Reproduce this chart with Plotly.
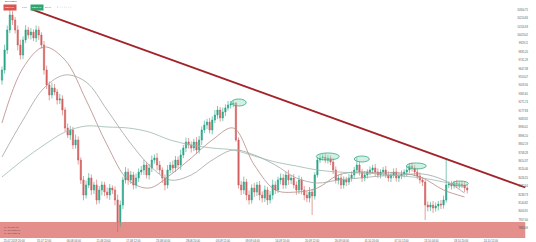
import pandas as pd
import plotly.graph_objects as go

# ---------------- data ----------------
first_open = 9520
close = [
    9633, 9857, 10081, 10248, 10192, 10081, 9913, 9801, 9969, 10081,
    10025, 10058, 9991, 10081, 10025, 9913, 9633, 9466, 9354, 9432,
    9387, 9298, 9310, 9186, 8985, 8907, 8963, 8795, 8851, 8627,
    8404, 8236, 8348, 8426, 8292, 8348, 8180, 8292, 8348, 8269,
    8236, 8314, 8292, 8180, 7934, 8124, 8404, 8493, 8404, 8460,
    8348, 8426, 8493, 8515, 8571, 8460, 8538, 8627, 8650, 8571,
    8515, 8426, 8348, 8515, 8571, 8538, 8627, 8571, 8683, 8761,
    8828, 8795, 8761, 8828, 8739, 8851, 8963, 9018, 9052, 8963,
    9074, 9130, 9186, 9097, 9164, 9209, 9242, 9253, 9264, 8851,
    8348, 8292, 8381, 8236, 8180, 8314, 8269, 8348, 8236, 8202,
    8292, 8180, 8236, 8348, 8292, 8404, 8426, 8348, 8460, 8404,
    8426, 8348, 8292, 8404, 8292, 8236, 8202, 8269, 8225, 8460,
    8627, 8650, 8661, 8627, 8650, 8605, 8515, 8404, 8426, 8348,
    8404, 8381, 8426, 8460, 8515, 8571, 8493, 8426, 8460, 8493,
    8515, 8538, 8493, 8460, 8493, 8515, 8460, 8426, 8460, 8493,
    8426, 8448, 8471, 8493, 8515, 8560, 8538, 8493, 8448, 8404,
    8381, 8124, 8102, 8124, 8090, 8113, 8135, 8124, 8180, 8348,
    8359, 8337, 8370, 8348, 8359, 8348, 8314, 8292,
]
upper_wick = [
    40, 60, 50, 80, 45, 35, 50, 60, 40, 55,
    35, 45, 30, 50, 40, 30, 45, 50, 40, 60,
    45, 35, 55, 40, 30, 50, 45, 35, 60, 40,
    30, 45, 50, 55, 40, 35, 60, 45, 40, 35,
    50, 45, 30, 40, 60, 50, 35, 55, 40, 45,
    35, 50, 40, 45, 60, 35, 45, 50, 40, 55,
    45, 30, 40, 55, 35, 50, 45, 40, 60, 35,
    50, 45, 40, 35, 55, 45, 40, 50, 35, 45,
    40, 55, 45, 35, 50, 40, 45, 35, 25, 10,
    30, 45, 60, 35, 50, 40, 55, 35, 45, 40,
    50, 35, 45, 60, 40, 35, 50, 45, 40, 55,
    35, 45, 40, 50, 35, 45, 40, 55, 35, 30,
    35, 40, 35, 40, 35, 30, 45, 40, 35, 50,
    40, 35, 45, 40, 35, 90, 40, 35, 45, 30,
    40, 35, 45, 40, 30, 35, 45, 40, 35, 40,
    45, 35, 40, 30, 45, 35, 40, 35, 45, 40,
    35, 20, 40, 35, 45, 40, 35, 45, 50, 300,
    30, 35, 25, 35, 30, 35, 40, 30,
]
lower_wick = [
    50, 40, 45, 35, 55, 40, 60, 50, 45, 35,
    40, 50, 35, 45, 55, 40, 50, 45, 60, 40,
    35, 50, 45, 60, 40, 35, 55, 45, 40, 50,
    45, 60, 40, 35, 55, 45, 50, 40, 60, 45,
    40, 55, 45, 60, 112, 50, 45, 40, 55, 45,
    50, 40, 45, 35, 55, 40, 50, 45, 40, 60,
    45, 55, 60, 40, 35, 50, 45, 40, 55, 35,
    45, 40, 50, 35, 45, 40, 55, 35, 45, 40,
    50, 35, 45, 40, 35, 45, 30, 40, 35, 20,
    40, 55, 45, 60, 50, 40, 55, 45, 60, 50,
    45, 55, 40, 50, 45, 35, 50, 45, 40, 55,
    45, 40, 55, 45, 50, 60, 45, 50, 213, 40,
    30, 35, 30, 35, 40, 35, 45, 40, 50, 45,
    40, 45, 35, 40, 45, 35, 40, 45, 35, 40,
    35, 40, 45, 35, 40, 45, 35, 40, 45, 35,
    40, 45, 35, 40, 45, 35, 40, 45, 35, 40,
    45, 168, 50, 45, 55, 40, 50, 45, 40, 30,
    35, 40, 30, 35, 40, 35, 45, 40,
]

ma_dates = [
    "2019-07-23 12:00", "2019-07-27 12:00", "2019-07-31 12:00", "2019-08-04 12:00",
    "2019-08-08 12:00", "2019-08-12 12:00", "2019-08-16 12:00", "2019-08-20 12:00",
    "2019-08-24 12:00", "2019-08-28 12:00", "2019-09-01 12:00", "2019-09-05 12:00",
    "2019-09-09 12:00", "2019-09-13 12:00", "2019-09-17 12:00", "2019-09-21 12:00",
    "2019-09-25 12:00", "2019-09-29 12:00", "2019-10-03 12:00", "2019-10-07 12:00",
    "2019-10-11 12:00", "2019-10-15 12:00", "2019-10-19 12:00",
]
ma_fast = [9041, 9656, 9891, 9745, 9298, 8795, 8404, 8314, 8460, 8650, 8851, 8985,
           8571, 8292, 8269, 8314, 8460, 8493, 8482, 8482, 8426, 8292, 8214]
ma_mid = [8661, 9074, 9432, 9578, 9499, 9186, 8851, 8571, 8404, 8460, 8627, 8739,
          8683, 8571, 8426, 8370, 8404, 8426, 8448, 8460, 8471, 8404, 8258]
ma_slow = [8437, 8627, 8795, 8940, 9007, 8996, 8985, 8940, 8851, 8795, 8761, 8739,
           8672, 8605, 8560, 8515, 8493, 8482, 8471, 8448, 8426, 8381, 8337]

trend_dates = ["2019-07-29 04:00", "2019-10-31 01:00"]
trend_prices = [10312, 8320]

zone_dates = ["2019-07-23 03:00", "2019-10-31 01:00"]
zone_prices = [7755.2, 7934]

# highlighted highs: (start, end, low price, high price)
ell_x0 = ["2019-09-05 03:00", "2019-09-21 07:00", "2019-09-28 12:30", "2019-10-08 10:00", "2019-10-17 04:00"]
ell_x1 = ["2019-09-07 23:00", "2019-09-25 16:00", "2019-10-01 09:00", "2019-10-12 05:00", "2019-10-20 05:00"]
ell_y0 = [9231, 8627, 8605, 8527, 8337]
ell_y1 = [9309, 8706, 8672, 8594, 8392]

price_ticks = [10304.75, 10210.84, 10116.93, 10023.02, 9929.11, 9835.20, 9741.29,
               9647.38, 9553.47, 9459.56, 9365.65, 9271.74, 9177.83, 9083.92,
               8990.01, 8896.10, 8802.19, 8708.28, 8614.37, 8520.46, 8426.55,
               8332.64, 8238.73, 8144.82, 8050.91, 7957.00, 7863.09, 7769.18]

date_ticks = ["2019-07-25 20:00", "2019-07-31 12:00", "2019-08-06 04:00", "2019-08-11 20:00",
              "2019-08-17 12:00", "2019-08-23 04:00", "2019-08-28 20:00", "2019-09-03 12:00",
              "2019-09-09 04:00", "2019-09-14 20:00", "2019-09-20 12:00", "2019-09-26 04:00",
              "2019-10-01 20:00", "2019-10-07 12:00", "2019-10-13 04:00", "2019-10-18 20:00",
              "2019-10-24 12:00", "2019-10-30 04:00"]
date_labels = ["25.07.2019 20:00", "31.07 12:00", "06.08 04:00", "11.08 20:00",
               "17.08 12:00", "23.08 04:00", "28.08 20:00", "03.09 12:00",
               "09.09 04:00", "14.09 20:00", "20.09 12:00", "26.09 04:00",
               "01.10 20:00", "07.10 12:00", "13.10 04:00", "18.10 20:00",
               "24.10 12:00", "30.10 04:00"]

# ---------------- build ----------------
times = pd.date_range("2019-07-23 12:00", periods=len(close), freq="12h")
opens = [first_open] + close[:-1]
highs = [max(o, c) + u for o, c, u in zip(opens, close, upper_wick)]
lows = [min(o, c) - w for o, c, w in zip(opens, close, lower_wick)]

W, H = 536, 242
fig = go.Figure()

fig.add_shape(type="rect", xref="x", yref="y", x0=zone_dates[0], x1=zone_dates[1],
              y0=zone_prices[0], y1=zone_prices[1], fillcolor="#e48f8c",
              line=dict(width=0), layer="below")

for name, vals, col in [("MA fast", ma_fast, "#b58a84"), ("MA mid", ma_mid, "#a3a3a3"),
                        ("MA slow", ma_slow, "#9cb9b0")]:
    fig.add_trace(go.Scatter(x=ma_dates, y=vals, mode="lines", name=name,
                             line=dict(color=col, width=0.8, shape="spline", smoothing=1.0),
                             hoverinfo="skip"))

fig.add_trace(go.Candlestick(
    x=times, open=opens, high=highs, low=lows, close=close,
    increasing=dict(line=dict(color="#2aa586", width=0.6), fillcolor="#2aa586"),
    decreasing=dict(line=dict(color="#d2605f", width=0.6), fillcolor="#d2605f"),
    whiskerwidth=0, name="BTCUSD"))

fig.add_trace(go.Scatter(x=trend_dates, y=trend_prices, mode="lines",
                         line=dict(color="#a2242a", width=1.8), hoverinfo="skip"))

for a, b, c, d in zip(ell_x0, ell_x1, ell_y0, ell_y1):
    fig.add_shape(type="circle", xref="x", yref="y", x0=a, x1=b, y0=c, y1=d,
                  fillcolor="rgba(150,225,195,0.45)", line=dict(color="#3aa882", width=0.8))

PH = 238.0
def py(p):
    return 1 - p / PH

small = dict(family="Liberation Sans, Arial, sans-serif", size=2.6, color="#555555")
fig.add_annotation(xref="paper", yref="paper", x=3 / W, y=py(1.8), xanchor="left", yanchor="middle",
                   text="BTCUSDm", showarrow=False, font=dict(family="Liberation Sans", size=2.4, color="#444"))
fig.add_annotation(xref="paper", yref="paper", x=3 / W, y=py(7.2), xanchor="left", yanchor="middle",
                   text="8291.17", showarrow=False, bgcolor="#d9534f", borderpad=1.1,
                   font=dict(family="Liberation Sans", size=2.5, color="white"))
fig.add_annotation(xref="paper", yref="paper", x=20 / W, y=py(7.2), xanchor="left", yanchor="middle",
                   text="1.00", showarrow=False, font=dict(family="Liberation Sans", size=2.5, color="#666"))
fig.add_annotation(xref="paper", yref="paper", x=30 / W, y=py(7.2), xanchor="left", yanchor="middle",
                   text="8292.43", showarrow=False, bgcolor="#2fa56f", borderpad=1.1,
                   font=dict(family="Liberation Sans", size=2.5, color="white"))
fig.add_annotation(xref="paper", yref="paper", x=43 / W, y=py(7.2), xanchor="left", yanchor="middle",
                   text="29.74", showarrow=False, font=dict(family="Liberation Sans", size=2.5, color="#666"))
fig.add_annotation(xref="paper", yref="paper", x=55 / W, y=py(7.2), xanchor="left", yanchor="middle",
                   text="∕  ▢  ▢  ▢", showarrow=False, font=dict(family="DejaVu Sans", size=2.8, color="#777"))
fig.add_annotation(xref="paper", yref="paper", x=2 / W, y=py(229.5), xanchor="left", yanchor="middle",
                   text="MA 50 8214.36<br>MA 100 8258.91<br>MA 200 8337.02", showarrow=False, align="left",
                   font=dict(family="Liberation Sans", size=2.2, color="#6b4a4a"))

fig.update_layout(
    width=W, height=H, margin=dict(l=0, r=0, t=0, b=4),
    paper_bgcolor="white", plot_bgcolor="white", showlegend=False,
    xaxis=dict(type="date", range=["2019-07-23 03:00", "2019-11-02 02:00"],
               rangeslider=dict(visible=False), showgrid=False, zeroline=False,
               showline=False, ticks="", tickvals=date_ticks, ticktext=date_labels,
               tickfont=dict(family="Liberation Sans, Arial, sans-serif", size=2.7, color="#555")),
    yaxis=dict(range=[7755.2, 10416], side="right", ticklabelposition="inside",
               showgrid=False, zeroline=False, showline=False, ticks="",
               tickvals=price_ticks, ticktext=[f"{v:.2f}" for v in price_ticks],
               tickfont=small, ticklabelstandoff=5),
)

fig.write_html("out.html")
